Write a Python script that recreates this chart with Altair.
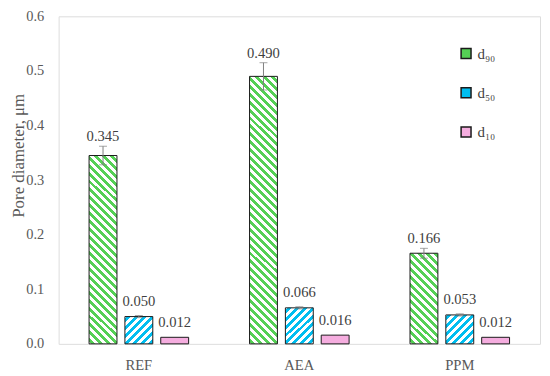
import altair as alt
import pandas as pd

# ---- data ----
categories = ["REF", "AEA", "PPM"]
series = ["d₉₀", "d₅₀", "d₁₀"]
d90 = [0.345, 0.490, 0.166]
d50 = [0.050, 0.066, 0.053]
d10 = [0.012, 0.016, 0.012]
err90 = [0.017, 0.025, 0.009]
err50 = [0.002, 0.002, 0.002]
err10 = [0.0, 0.0, 0.0]

rows = []
for s, vals, errs in zip(series, [d90, d50, d10], [err90, err50, err10]):
    for c, v, e in zip(categories, vals, errs):
        rows.append({"category": c, "series": s, "value": v, "err": e,
                     "lo": v - e, "hi": v + e, "label": f"{v:.3f}"})
df = pd.DataFrame(rows)

# ---- layout / style ----
W, H = 485, 330
YMAX = 0.6
FONT = "Liberation Serif"
GRAY = "#595959"
TXT = "#404040"
GREEN = "#55d055"
CYAN = "#00bef0"
PINK = "#f5addf"
BAR_W = 28.0

def X():
    return alt.X("category:N", sort=categories,
                 scale=alt.Scale(domain=categories, paddingInner=0.33, paddingOuter=0.165),
                 axis=alt.Axis(title=None, labelAngle=0, labelFontSize=14.7, labelColor=GRAY,
                               labelPadding=14, ticks=False, domain=False, labelFont=FONT))

def XO():
    return alt.XOffset("series:N", sort=series,
                       scale=alt.Scale(domain=series, paddingInner=0.222, paddingOuter=0.111))

def Y(field):
    return alt.Y(f"{field}:Q",
                 scale=alt.Scale(domain=[0, YMAX], nice=False, zero=True),
                 axis=alt.Axis(title="Pore diameter, μm", values=[0, 0.1, 0.2, 0.3, 0.4, 0.5, 0.6],
                               format=".1f", ticks=False, domain=False, grid=False,
                               labelFontSize=14.5, labelColor=GRAY, labelPadding=15, labelFont=FONT,
                               titleFontSize=17, titleColor=GRAY, titleFont=FONT, titleFontWeight="normal",
                               titleAngle=270, titleAlign="center", titleBaseline="middle",
                               titleX=-40, titleY=140))

def stripe_gradient(value, color, direction, period=8.0, frac=0.5, phase=2.0):
    h = value / YMAX * H
    w = BAR_W
    L = w + h
    sc = w / (w * w + h * h)
    stops = [alt.GradientStop(offset=0, color="white")]
    k = 0
    while True:
        s0 = k * period + phase
        if s0 >= L:
            break
        s1 = min(s0 + frac * period, L)
        t0, t1 = s0 * sc, s1 * sc
        stops += [alt.GradientStop(offset=t0, color="white"),
                  alt.GradientStop(offset=t0, color=color),
                  alt.GradientStop(offset=t1, color=color),
                  alt.GradientStop(offset=t1, color="white")]
        k += 1
    stops.append(alt.GradientStop(offset=1, color="white"))
    if direction == "back":   # "\" stripes
        return alt.LinearGradient(gradient="linear", stops=stops, x1=0, y1=1, x2=1, y2=1 - h / w)
    return alt.LinearGradient(gradient="linear", stops=stops, x1=0, y1=0, x2=1, y2=h / w)

base = alt.Chart(df)
layers = []

for s, vals, color, direction in [(series[0], d90, GREEN, "back"), (series[1], d50, CYAN, "fwd")]:
    for c, v in zip(categories, vals):
        layers.append(
            base.transform_filter((alt.datum.series == s) & (alt.datum.category == c))
            .mark_bar(fill=stripe_gradient(v, color, direction), stroke="#1a1a1a", strokeWidth=1)
            .encode(x=X(), xOffset=XO(), y=Y("value"))
        )

layers.append(
    base.transform_filter(alt.datum.series == series[2])
    .mark_bar(fill=PINK, stroke="#1a1a1a", strokeWidth=1)
    .encode(x=X(), xOffset=XO(), y=Y("value"))
)

errs = base.transform_filter(alt.datum.err > 0)
layers.append(errs.mark_rule(color="#808080", strokeWidth=1)
              .encode(x=X(), xOffset=XO(), y=Y("lo"), y2="hi"))
layers.append(errs.mark_tick(color="#808080", size=8, thickness=1)
              .encode(x=X(), xOffset=XO(), y=Y("hi")))
layers.append(errs.mark_tick(color="#808080", size=8, thickness=1)
              .encode(x=X(), xOffset=XO(), y=Y("lo")))

layers.append(base.transform_filter(alt.datum.series == series[0])
              .mark_text(font=FONT, fontSize=14.7, color=TXT, baseline="alphabetic", dy=-5)
              .encode(x=X(), xOffset=XO(), y=Y("hi"), text="label:N"))
layers.append(base.transform_filter(alt.datum.series != series[0])
              .mark_text(font=FONT, fontSize=14.7, color=TXT, baseline="alphabetic", dy=-10)
              .encode(x=X(), xOffset=XO(), y=Y("hi"), text="label:N"))

# legend carrier (no marks drawn)
layers.append(base.transform_filter("false")
              .mark_point(filled=True, shape="square", opacity=1)
              .encode(color=alt.Color("series:N",
                                      scale=alt.Scale(domain=series, range=[GREEN, CYAN, PINK]),
                                      legend=alt.Legend(title=None, orient="none", legendX=403, legendY=30,
                                                        symbolType="square", symbolSize=100,
                                                        symbolStrokeColor="#1a1a1a", symbolStrokeWidth=1.5,
                                                        symbolOpacity=1,
                                                        labelFont=FONT, labelFontSize=15, labelColor=TXT,
                                                        labelOffset=4, rowPadding=22.5, padding=0))))

chart = alt.layer(*layers).properties(
    width=W, height=H,
    autosize=alt.AutoSizeParams(type="none"),
    padding={"left": 51, "top": 7, "right": 2, "bottom": 31},
).configure_view(stroke="#1a1a1a", strokeWidth=1.3).configure(font=FONT)

chart.save("out.html", embed_options={"renderer": "svg", "actions": False})
